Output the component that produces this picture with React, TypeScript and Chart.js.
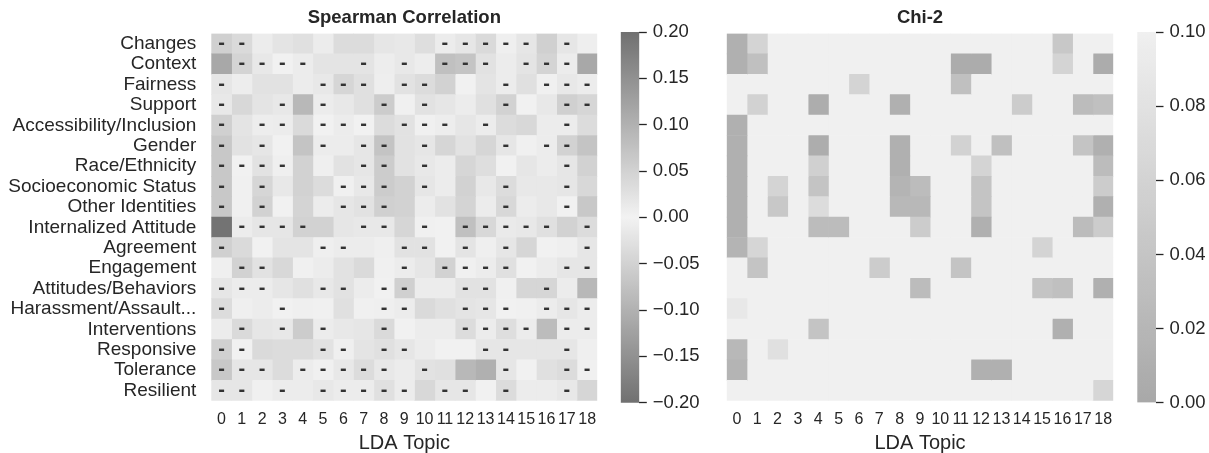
import React, { useEffect, useRef } from "react";
import { Chart, registerables } from "chart.js";

Chart.register(...registerables);

const FONT = "'Liberation Sans', Arial, Helvetica, sans-serif";
const TEXT = "#262626";

const categories = [
  "Changes",
  "Context",
  "Fairness",
  "Support",
  "Accessibility/Inclusion",
  "Gender",
  "Race/Ethnicity",
  "Socioeconomic Status",
  "Other Identities",
  "Internalized Attitude",
  "Agreement",
  "Engagement",
  "Attitudes/Behaviors",
  "Harassment/Assault...",
  "Interventions",
  "Responsive",
  "Tolerance",
  "Resilient",
];

const topics = ["0", "1", "2", "3", "4", "5", "6", "7", "8", "9", "10", "11", "12", "13", "14", "15", "16", "17", "18"];

// Spearman correlation: one row per category, one value per LDA topic
const spearmanRho: number[][] = [
  [-0.052, -0.037, 0.010, 0.022, 0.028, 0.010, 0.034, 0.034, 0.018, 0.015, 0.031, -0.010, -0.018, -0.037, -0.005, -0.018, 0.052, -0.018, 0.006],
  [0.114, -0.046, -0.015, -0.002, -0.010, 0.022, 0.022, -0.022, 0.008, -0.015, 0.008, -0.077, -0.071, -0.025, 0.010, -0.022, -0.046, -0.010, 0.114],
  [-0.018, 0.008, 0.025, 0.025, 0.010, -0.015, -0.043, -0.028, 0.006, -0.025, -0.034, 0.049, 0.002, 0.022, -0.010, 0.028, -0.003, -0.015, -0.010],
  [-0.015, 0.040, 0.022, -0.015, 0.089, -0.010, 0.015, 0.028, -0.058, 0.003, -0.025, 0.018, 0.010, 0.028, -0.049, 0.002, 0.015, -0.052, -0.043],
  [-0.052, 0.022, -0.008, -0.010, 0.037, -0.002, -0.010, -0.001, 0.034, -0.025, -0.003, -0.008, 0.018, -0.010, 0.034, 0.040, 0.010, -0.010, 0.034],
  [-0.065, 0.025, -0.018, 0.002, 0.071, -0.010, 0.010, -0.018, -0.071, 0.025, -0.018, 0.043, 0.025, 0.043, -0.018, 0.003, -0.010, -0.049, 0.071],
  [-0.065, -0.002, -0.025, -0.005, 0.049, 0.005, 0.025, -0.018, -0.058, 0.025, -0.015, 0.010, 0.043, 0.031, 0.001, 0.018, 0.010, -0.018, 0.049],
  [-0.065, 0.003, -0.043, 0.015, 0.049, 0.034, -0.003, -0.015, -0.058, 0.049, -0.018, 0.010, 0.049, 0.015, -0.034, 0.015, 0.015, -0.018, 0.040],
  [-0.065, 0.003, -0.049, 0.002, 0.046, 0.010, -0.018, -0.025, -0.052, 0.049, 0.010, 0.025, 0.046, 0.010, -0.040, 0.010, 0.015, -0.001, 0.065],
  [0.195, -0.010, -0.018, -0.018, -0.049, 0.049, 0.018, -0.015, -0.015, 0.043, -0.003, 0.002, -0.077, -0.040, -0.012, -0.015, -0.028, 0.049, -0.034],
  [-0.052, 0.037, 0.002, 0.022, 0.022, -0.005, -0.010, 0.010, 0.005, -0.025, -0.025, 0.002, -0.022, 0.005, -0.018, 0.043, 0.002, 0.005, -0.018],
  [0.005, -0.049, -0.025, 0.040, 0.003, 0.010, 0.025, 0.037, 0.003, -0.010, 0.018, -0.049, -0.003, -0.010, -0.028, 0.002, 0.010, -0.018, -0.018],
  [-0.018, -0.010, -0.010, 0.018, 0.028, -0.015, -0.025, 0.010, -0.001, -0.052, 0.010, 0.010, -0.025, -0.025, 0.003, 0.043, -0.043, 0.010, 0.089],
  [-0.034, 0.005, 0.010, -0.001, 0.005, 0.003, 0.028, 0.003, -0.005, -0.010, 0.037, 0.028, -0.022, -0.018, -0.001, 0.003, -0.010, -0.018, -0.010],
  [0.010, -0.037, 0.018, -0.015, 0.058, -0.010, 0.015, 0.018, -0.037, 0.002, 0.010, 0.010, -0.034, -0.010, -0.031, -0.010, 0.083, -0.010, -0.010],
  [-0.052, -0.001, 0.037, 0.034, 0.034, -0.025, -0.005, 0.022, -0.028, -0.018, 0.010, 0.002, 0.002, -0.018, -0.018, 0.018, 0.018, -0.018, 0.005],
  [-0.065, -0.018, -0.018, 0.034, -0.010, -0.003, -0.015, -0.034, -0.015, 0.010, -0.025, 0.028, 0.089, 0.102, -0.018, 0.002, 0.028, -0.034, -0.003],
  [-0.018, -0.018, 0.003, -0.010, 0.010, -0.015, -0.010, -0.010, -0.028, -0.010, 0.040, -0.018, -0.018, 0.002, -0.034, 0.010, 0.010, -0.015, 0.043],
];

// Chi-2 p-values (NS = not significant, shown at the top of the scale)
const NS = 0.5;
const chi2P: number[][] = [
  [0.011, 0.061, NS, NS, NS, NS, NS, NS, NS, NS, NS, NS, NS, NS, NS, NS, 0.044, NS, NS],
  [0.011, 0.033, NS, NS, NS, NS, NS, NS, NS, NS, NS, 0.006, 0.006, NS, NS, NS, 0.061, NS, 0.006],
  [NS, NS, NS, NS, NS, NS, 0.061, NS, NS, NS, NS, 0.033, NS, NS, NS, NS, NS, NS, NS],
  [NS, 0.058, NS, NS, 0.007, NS, NS, NS, 0.011, NS, NS, NS, NS, NS, 0.050, NS, NS, 0.028, 0.033],
  [0.011, NS, NS, NS, NS, NS, NS, NS, NS, NS, NS, NS, NS, NS, NS, NS, NS, NS, NS],
  [0.011, NS, NS, NS, 0.007, NS, NS, NS, 0.011, NS, NS, 0.058, NS, 0.033, NS, NS, NS, 0.039, 0.011],
  [0.011, NS, NS, NS, 0.056, NS, NS, NS, 0.011, NS, NS, NS, 0.061, NS, NS, NS, NS, NS, 0.028],
  [0.011, NS, 0.061, NS, 0.039, NS, NS, NS, 0.017, 0.028, NS, NS, 0.039, NS, NS, NS, NS, NS, 0.050],
  [0.011, NS, 0.044, NS, 0.072, NS, NS, NS, 0.022, 0.022, NS, NS, 0.039, NS, NS, NS, NS, NS, 0.011],
  [0.011, NS, NS, NS, 0.028, 0.028, NS, NS, NS, 0.050, NS, NS, 0.011, NS, NS, NS, NS, 0.028, 0.050],
  [0.017, 0.064, NS, NS, NS, NS, NS, NS, NS, NS, NS, NS, NS, NS, NS, 0.061, NS, NS, NS],
  [NS, 0.039, NS, NS, NS, NS, NS, 0.050, NS, NS, NS, 0.039, NS, NS, NS, NS, NS, NS, NS],
  [NS, NS, NS, NS, NS, NS, NS, NS, NS, 0.028, NS, NS, NS, NS, NS, 0.039, 0.033, NS, 0.011],
  [0.089, NS, NS, NS, NS, NS, NS, NS, NS, NS, NS, NS, NS, NS, NS, NS, NS, NS, NS],
  [NS, NS, NS, NS, 0.039, NS, NS, NS, NS, NS, NS, NS, NS, NS, NS, NS, 0.011, NS, NS],
  [0.022, NS, 0.078, NS, NS, NS, NS, NS, NS, NS, NS, NS, NS, NS, NS, NS, NS, NS, NS],
  [0.017, NS, NS, NS, NS, NS, NS, NS, NS, NS, NS, NS, 0.011, 0.011, NS, NS, NS, NS, NS],
  [NS, NS, NS, NS, NS, NS, NS, NS, NS, NS, NS, NS, NS, NS, NS, NS, NS, NS, 0.064],
];

const spearmanTicks = [-0.2, -0.15, -0.1, -0.05, 0, 0.05, 0.1, 0.15, 0.2];
const chi2Ticks = [0, 0.02, 0.04, 0.06, 0.08, 0.1];

const grey = (l: number) => {
  const v = Math.round(l);
  return `rgb(${v},${v},${v})`;
};
const spearColor = (v: number) => {
  const t = Math.min(Math.abs(v) / 0.2, 1);
  return grey(242 - t * (242 - 112));
};
const chiColor = (v: number) => {
  const t = Math.max(0, Math.min(v / 0.1, 1));
  return grey(168 + t * (240 - 168));
};
const fmtTick = (v: number) => (v < 0 ? "\u2212" + Math.abs(v).toFixed(2) : v.toFixed(2));

const dashPlugin = {
  id: "dashes",
  afterDatasetsDraw(chart: any) {
    const ctx = chart.ctx;
    ctx.save();
    ctx.fillStyle = "#333333";
    ctx.font = `bold 20px ${FONT}`;
    ctx.textAlign = "center";
    ctx.textBaseline = "alphabetic";
    chart.data.datasets.forEach((ds: any, c: number) => {
      const meta = chart.getDatasetMeta(c);
      meta.data.forEach((el: any, r: number) => {
        if (spearmanRho[r][c] < 0) {
          const p = el.getProps(["x", "y", "base"], true);
          ctx.fillText("-", (p.x + p.base) / 2, p.y + 5);
        }
      });
    });
    ctx.restore();
  },
};

function heatmapConfig(
  title: string,
  values: number[][],
  colorFn: (v: number) => string,
  showY: boolean,
  padLeft: number,
  padRight: number,
  withDashes: boolean
): any {
  const yScale: any = {
    type: "category",
    stacked: true,
    display: showY,
    grid: { display: false, drawTicks: false },
    border: { display: false },
    ticks: {
      autoSkip: false,
      padding: 15,
      color: TEXT,
      font: { family: FONT, size: 19 },
    },
  };
  if (showY) {
    yScale.afterFit = (s: any) => {
      s.width = 211.3;
    };
  }
  return {
    type: "bar",
    data: {
      labels: categories,
      datasets: topics.map((t, c) => ({
        label: t,
        data: categories.map(() => 1),
        backgroundColor: values.map((row) => colorFn(row[c])),
        borderWidth: 0,
        barPercentage: 1,
        categoryPercentage: 1,
      })),
    },
    options: {
      indexAxis: "y",
      responsive: false,
      animation: false,
      events: [],
      layout: { padding: { left: padLeft, right: padRight, top: 0, bottom: 0 } },
      plugins: {
        legend: { display: false },
        tooltip: { enabled: false },
        title: {
          display: true,
          text: title,
          fullSize: false,
          color: TEXT,
          font: { family: FONT, size: 18.5, weight: "bold", lineHeight: 1.2 },
          padding: { top: 7, bottom: 4.3 },
        },
      },
      scales: {
        x: {
          type: "linear",
          stacked: true,
          min: 0,
          max: topics.length,
          grid: { display: false, drawTicks: false },
          border: { display: false },
          afterBuildTicks: (s: any) => {
            s.ticks = topics.map((_, i) => ({ value: i + 0.5 }));
          },
          afterFit: (s: any) => {
            s.height = 52.3;
          },
          ticks: {
            autoSkip: false,
            maxRotation: 0,
            padding: 9.7,
            color: TEXT,
            font: { family: FONT, size: 16 },
            callback: (_v: any, i: number) => topics[i],
          },
          title: {
            display: true,
            text: "LDA Topic",
            color: TEXT,
            font: { family: FONT, size: 20, lineHeight: 1 },
            padding: 0,
          },
        },
        y: yScale,
      },
    },
    plugins: withDashes ? [dashPlugin] : [],
  };
}

function colorbarConfig(
  min: number,
  max: number,
  ticks: number[],
  colorFn: (v: number) => string,
  padLeft: number,
  top: number,
  bottom: number,
  axisWidth: number
): any {
  return {
    type: "bar",
    data: {
      labels: [""],
      datasets: [
        {
          data: [[min, max]],
          borderWidth: 0,
          barPercentage: 1,
          categoryPercentage: 1,
          backgroundColor: (ctx: any) => {
            const chart = ctx.chart;
            const area = chart.chartArea;
            if (!area) return colorFn(min);
            const g = chart.ctx.createLinearGradient(0, area.bottom, 0, area.top);
            const n = 40;
            for (let i = 0; i <= n; i++) {
              g.addColorStop(i / n, colorFn(min + ((max - min) * i) / n));
            }
            return g;
          },
        },
      ],
    },
    options: {
      responsive: false,
      animation: false,
      events: [],
      layout: { padding: { left: padLeft, right: 0, top, bottom } },
      plugins: { legend: { display: false }, tooltip: { enabled: false }, title: { display: false } },
      scales: {
        x: { display: false },
        y: {
          type: "linear",
          position: "right",
          min,
          max,
          afterBuildTicks: (s: any) => {
            s.ticks = ticks.map((v) => ({ value: v }));
          },
          afterFit: (s: any) => {
            s.width = axisWidth;
          },
          grid: {
            drawOnChartArea: false,
            drawTicks: true,
            tickLength: 7.5,
            tickColor: TEXT,
            tickWidth: 1.3,
          },
          border: { display: false },
          ticks: {
            autoSkip: false,
            padding: 6,
            color: TEXT,
            font: { family: FONT, size: 18.5 },
            callback: (v: any) => fmtTick(Number(v)),
          },
        },
      },
    },
  };
}

export default function App() {
  const leftRef = useRef<HTMLCanvasElement>(null);
  const leftBarRef = useRef<HTMLCanvasElement>(null);
  const rightRef = useRef<HTMLCanvasElement>(null);
  const rightBarRef = useRef<HTMLCanvasElement>(null);

  useEffect(() => {
    Chart.defaults.font.family = FONT;
    const charts: Chart[] = [];
    charts.push(
      new Chart(leftRef.current!, heatmapConfig("Spearman Correlation", spearmanRho, spearColor, true, 0, 12.7, true))
    );
    charts.push(
      new Chart(
        leftBarRef.current!,
        colorbarConfig(-0.2, 0.2, spearmanTicks, spearColor, 10.7, 32, 50.3, 72.7)
      )
    );
    charts.push(new Chart(rightRef.current!, heatmapConfig("Chi-2", chi2P, chiColor, false, 14.7, 11.7, false)));
    charts.push(
      new Chart(rightBarRef.current!, colorbarConfig(0, 0.1, chi2Ticks, chiColor, 12.3, 32, 50.3, 53))
    );
    return () => charts.forEach((c) => c.destroy());
  }, []);

  const abs = (left: number): React.CSSProperties => ({ position: "absolute", left, top: 0, display: "block" });

  return (
    <div style={{ position: "absolute", left: 0, top: 0, width: 1209, height: 453, background: "#ffffff", overflow: "hidden" }}>
      <canvas ref={leftRef} width={610} height={453} style={abs(0)} />
      <canvas ref={leftBarRef} width={102} height={453} style={abs(610)} />
      <canvas ref={rightRef} width={413} height={453} style={abs(712)} />
      <canvas ref={rightBarRef} width={84} height={453} style={abs(1125)} />
    </div>
  );
}
